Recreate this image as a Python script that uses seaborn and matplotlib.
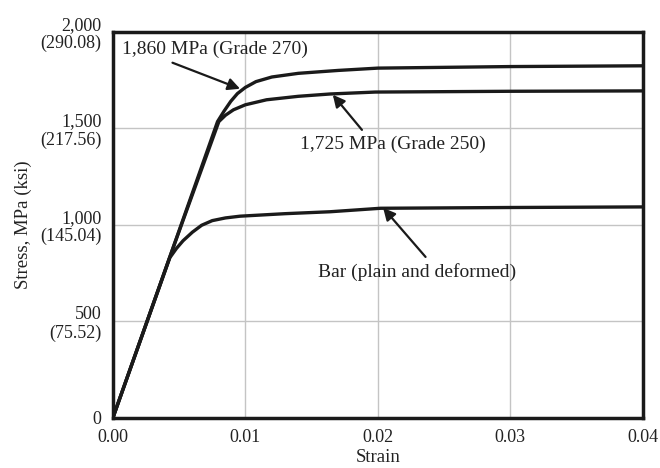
import matplotlib
matplotlib.use("Agg")
import matplotlib.pyplot as plt
import pandas as pd
import seaborn as sns

# Values (strain, stress in MPa)
strain_270 = [0.0, 0.0043, 0.0079, 0.0084, 0.0089, 0.0094, 0.0100, 0.0108, 0.0120,
              0.0140, 0.0170, 0.0200, 0.0300, 0.0400]
stress_270 = [0, 834, 1535, 1590, 1640, 1680, 1712, 1742, 1766, 1785, 1800, 1812, 1820, 1824]

strain_250 = [0.0, 0.0043, 0.0080, 0.0085, 0.0091, 0.0100, 0.0116, 0.0140, 0.0164,
              0.0198, 0.0300, 0.0400]
stress_250 = [0, 834, 1535, 1568, 1596, 1622, 1648, 1666, 1678, 1688, 1692, 1694]

strain_bar = [0.0, 0.0043, 0.0048, 0.0053, 0.0060, 0.0067, 0.0075, 0.0085, 0.0096,
              0.0130, 0.0164, 0.0202, 0.0300, 0.0400]
stress_bar = [0, 830, 878, 918, 962, 998, 1022, 1036, 1045, 1058, 1068, 1086, 1090, 1093]

x_ticks = [0.00, 0.01, 0.02, 0.03, 0.04]
x_ticklabels = ["0.00", "0.01", "0.02", "0.03", "0.04"]
y_ticks = [0, 500, 1000, 1500, 2000]
y_ticklabels = ["0", "500\n(75.52)", "1,000\n(145.04)", "1,500\n(217.56)", "2,000\n(290.08)"]

sns.set_theme(style="whitegrid")
plt.rcParams["font.family"] = ["Liberation Serif", "DejaVu Serif"]

fig = plt.figure(figsize=(6.6, 4.68), dpi=100)
ax = fig.add_axes([0.171, 0.107, 0.803, 0.825])

for xs, ys in [(strain_270, stress_270), (strain_250, stress_250), (strain_bar, stress_bar)]:
    df = pd.DataFrame({"strain": xs, "stress": ys})
    sns.lineplot(data=df, x="strain", y="stress", sort=False, color="#1a1a1a",
                 linewidth=2.4, ax=ax)

ax.set_xlim(0, 0.04)
ax.set_ylim(0, 2000)
ax.set_xticks(x_ticks)
ax.set_xticklabels(x_ticklabels)
ax.set_yticks(y_ticks)
ax.set_yticklabels(y_ticklabels, linespacing=1.1)
ax.tick_params(direction="in", length=4, width=1.2, colors="#333333",
               labelsize=13, labelcolor="#222222", pad=8)
ax.set_facecolor("white")
ax.grid(True, color="#c4c4c4", linewidth=1.0)
for s in ax.spines.values():
    s.set_color("#1a1a1a")
    s.set_linewidth(2.5)

ax.set_xlabel("Strain", fontsize=13.5, color="#222222", labelpad=2)
ax.set_ylabel("Stress, MPa (ksi)", fontsize=13.5, color="#222222", labelpad=6)

# annotation arrows (tail -> head) and their labels
arrow = dict(arrowstyle="-|>", color="#1a1a1a", lw=1.6, mutation_scale=18,
             shrinkA=0, shrinkB=0)
ax.annotate("", xy=(0.0096, 1705), xytext=(0.0045, 1840), arrowprops=arrow)
ax.text(0.0007, 1907, "1,860 MPa (Grade 270)", fontsize=14, color="#222222", va="center")
ax.annotate("", xy=(0.0166, 1674), xytext=(0.0188, 1492), arrowprops=arrow)
ax.text(0.0141, 1415, "1,725 MPa (Grade 250)", fontsize=14, color="#222222", va="center")
ax.annotate("", xy=(0.0204, 1088), xytext=(0.0236, 834), arrowprops=arrow)
ax.text(0.0155, 756, "Bar (plain and deformed)", fontsize=14, color="#222222", va="center")

fig.savefig("out.png", dpi=100, facecolor="white")
